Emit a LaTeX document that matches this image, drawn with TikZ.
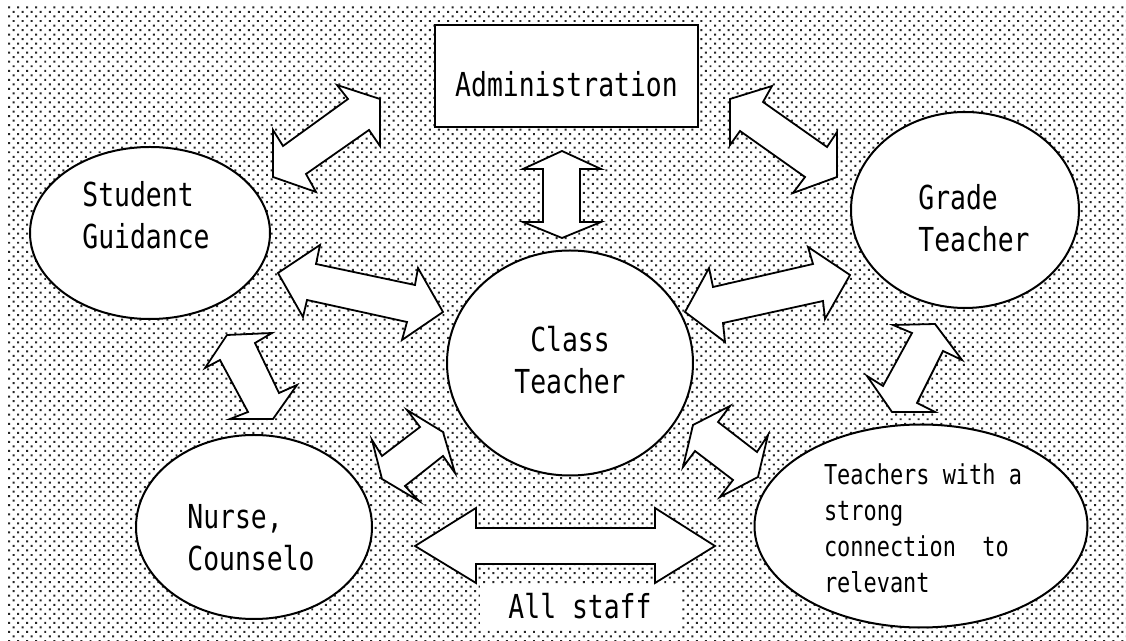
\documentclass[tikz,border=0pt]{standalone}
\usepackage{fontspec}
\usetikzlibrary{shapes.geometric,patterns.meta}
\newfontfamily\gothic[FakeStretch=0.8]{DejaVu Sans Mono}

\begin{document}
\begin{tikzpicture}[x=0.5pt,y=-0.5pt,
  blob/.style={ellipse,draw,line width=1pt,fill=white,inner sep=0pt},
  blockarr/.style={draw,line width=0.9pt,fill=white,line join=miter},
  txt/.style={font=\gothic\fontsize{16.5}{21}\selectfont,align=left,inner sep=0pt}]
\useasboundingbox (0,0) rectangle (1126,641);
% dotted backdrop
\fill[pattern={Dots[distance=3.2pt,angle=45,radius=0.7pt]},pattern color=black!85] (6,5) rectangle (1126,641);

% the staff groups
\node[draw,line width=1pt,fill=white,minimum width=131.5pt,minimum height=51pt,
  font=\gothic\fontsize{16.5}{21}\selectfont,text height=21pt,text depth=0pt] (admin) at (566.5,76) {Administration};
\node[blob,minimum width=120pt,minimum height=86pt] (guid) at (150,233) {};
\node[blob,minimum width=114pt,minimum height=98pt] (grade) at (965,210) {};
\node[blob,minimum width=123pt,minimum height=112.5pt] (cls) at (570,363) {};
\node[blob,minimum width=118pt,minimum height=92pt] (nurse) at (254,527) {};
\node[blob,minimum width=166.5pt,minimum height=101.5pt] (rel) at (921,526) {};
\node[fill=white,minimum width=100pt,minimum height=23pt,
  font=\gothic\fontsize{16.5}{21}\selectfont,text height=12pt,text depth=0pt] (staff) at (580,607) {All staff};

\node[txt] (guid-txt) at (146,215) {Student\\Guidance};
\node[txt] (grade-txt) at (974,218) {Grade\\Teacher};
\node[txt,align=center] (cls-txt) at (570,360) {Class\\Teacher};
\node[txt] (nurse-txt) at (251,538) {Nurse,\\Counselo};
\node[txt,font=\gothic\fontsize{13.7}{18}\selectfont] (rel-txt) at (923,528)
  {Teachers with a\\strong\\connection\ \ to\\relevant};

% two-headed block arrows
\draw[blockarr] (337,85)--(348,99)--(283,146)--(273,130)--(273,177)--(316,192)--(306,174)--(369,130)--(380,146)--(380,99)--cycle;
\draw[blockarr] (772,86)--(763,102)--(827,147)--(837,132)--(837,177)--(793,193)--(805,177)--(740,131)--(730,145)--(730,99)--cycle;
\draw[blockarr] (562,151)--(601,169)--(580,169)--(580,222)--(601,222)--(562,238)--(523,222)--(543,222)--(543,169)--(523,169)--cycle;
\draw[blockarr] (320,245)--(316,264)--(415,285)--(418,268)--(443,312)--(402,340)--(407,322)--(307,300)--(303,317)--(278,273)--cycle;
\draw[blockarr] (808,247)--(813,264)--(713,287)--(709,268)--(685,312)--(725,342)--(723,323)--(823,301)--(825,319)--(850,275)--cycle;
\draw[blockarr] (227,335)--(272,333)--(255,343)--(279,393)--(297,385)--(273,419)--(230,419)--(248,412)--(220,360)--(205,368)--cycle;
\draw[blockarr] (893,325)--(935,324)--(962,360)--(943,351)--(917,403)--(935,412)--(892,412)--(867,376)--(883,386)--(912,333)--cycle;
\draw[blockarr] (407,410)--(420,427)--(382,456)--(372,440)--(382,479)--(419,501)--(405,486)--(443,456)--(455,473)--(443,432)--cycle;
\draw[blockarr] (730,406)--(718,422)--(757,452)--(768,435)--(758,477)--(720,497)--(733,480)--(695,451)--(683,467)--(693,425)--cycle;
\draw[blockarr] (415,546)--(476,508)--(476,528)--(655,528)--(655,508)--(715,546)--(655,583)--(655,564)--(476,564)--(476,583)--cycle;
\end{tikzpicture}
\end{document}
